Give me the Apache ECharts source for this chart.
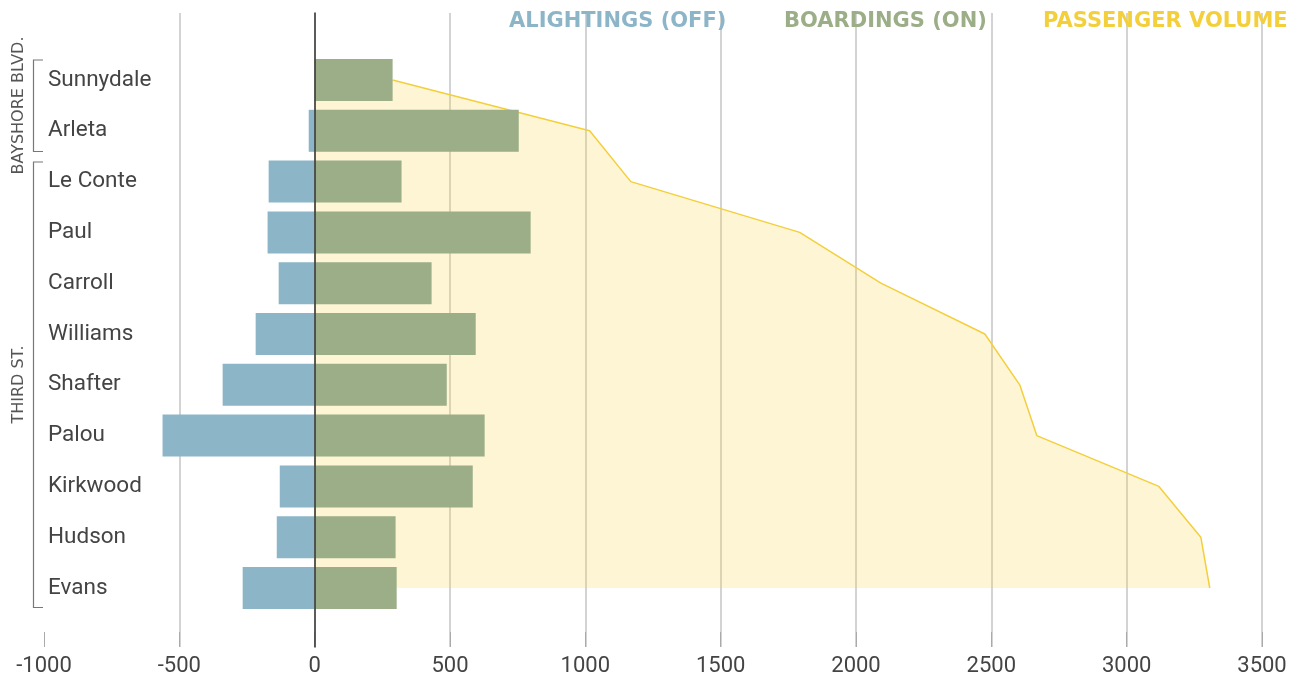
<!DOCTYPE html>
<html>
<head>
<meta charset="utf-8">
<script src="https://cdn.jsdelivr.net/npm/echarts@6/dist/echarts.min.js"></script>
<style>
html,body{margin:0;padding:0;background:#fff;}
#chart{width:1305px;height:678px;}
</style>
</head>
<body>
<div id="chart"></div>
<script>
const categories = ['Sunnydale','Arleta','Le Conte','Paul','Carroll','Williams','Shafter','Palou','Kirkwood','Hudson','Evans'];
const alightings = [0,-22,-170,-174,-133,-218,-340,-562,-129,-140,-266];
const boardings = [288,754,321,798,432,595,488,628,584,299,303];
const passengerVolume = [288,1016,1168,1792,2092,2476,2605,2668,3119,3274,3307];
const xMin = -1000, xMax = 3500, xStep = 500;
const seriesNames = ['ALIGHTINGS (OFF)','BOARDINGS (ON)','PASSENGER VOLUME'];
const groupLabels = ['BAYSHORE BLVD.','THIRD ST.'];

const BLUE = '#8cb6c8', GREEN = '#9bae87', YELLOW = '#f4cf3c';
const chart = echarts.init(document.getElementById('chart'));

function legendAt(name, left, color){
  return {
    data:[name], left:left, top:11, icon:'none', itemWidth:0, itemHeight:0,
    selectedMode:false, padding:0,
    textStyle:{color:color, fontFamily:'DejaVu Sans', fontWeight:'bold', fontSize:21, padding:0}
  };
}
const bracketStyle = {stroke:'#777', lineWidth:1.2, fill:null};

chart.setOption({
  animation:false,
  legend:[
    legendAt(seriesNames[0], 504, BLUE),
    legendAt(seriesNames[1], 779, GREEN),
    legendAt(seriesNames[2], 1038, YELLOW)
  ],
  grid:[
    {left:44, right:43, top:13, bottom:31},
    {left:44, right:43, top:54.6, bottom:64.6}
  ],
  xAxis:[
    {gridIndex:0, type:'value', min:xMin, max:xMax, interval:xStep,
     axisLine:{show:false},
     axisTick:{show:true, inside:true, length:15, lineStyle:{color:'#aaa', width:1}},
     axisLabel:{color:'#444', fontSize:22, fontFamily:'Roboto', margin:8,
                formatter:function(v){ return String(v); }},
     splitLine:{show:true, showMinLine:false, lineStyle:{color:'#c4c4c4', width:1.5}}},
    {gridIndex:1, type:'value', min:xMin, max:xMax, interval:xStep, show:false,
     splitLine:{show:false}}
  ],
  yAxis:[
    {gridIndex:0, type:'value', min:0, max:1, z:10,
     axisLine:{show:true, onZero:true, lineStyle:{color:'#333', width:1.5}},
     axisTick:{show:false}, axisLabel:{show:false}, splitLine:{show:false}},
    {gridIndex:1, type:'category', data:categories, inverse:true,
     axisLine:{show:false}, axisTick:{show:false},
     axisLabel:{margin:-4, align:'left', color:'#444', fontSize:22.5, fontFamily:'Roboto', padding:[10,0,0,0]},
     splitLine:{show:false}}
  ],
  series:[
    {name:seriesNames[2], type:'line', xAxisIndex:1, yAxisIndex:1, data:passengerVolume,
     symbol:'none', z:1, lineStyle:{color:YELLOW, width:1.5},
     itemStyle:{color:YELLOW},
     areaStyle:{color:'rgba(245,210,60,0.32)'}},
    {name:seriesNames[0], type:'bar', xAxisIndex:1, yAxisIndex:1, data:alightings,
     barWidth:42, barGap:'-100%', z:3, itemStyle:{color:BLUE}},
    {name:seriesNames[1], type:'bar', xAxisIndex:1, yAxisIndex:1, data:boardings,
     barWidth:42, barGap:'-100%', z:3, itemStyle:{color:GREEN}}
  ],
  graphic:[
    {type:'polyline', shape:{points:[[43,60],[33.5,60],[33.5,151.5],[43,151.5]]}, style:bracketStyle, silent:true},
    {type:'polyline', shape:{points:[[43,162],[33.5,162],[33.5,607.5],[43,607.5]]}, style:bracketStyle, silent:true},
    {type:'text', x:19, y:105.5, rotation:Math.PI/2,
     style:{text:groupLabels[0], fill:'#555', font:'16px "DejaVu Sans"', align:'center', verticalAlign:'middle'}},
    {type:'text', x:19, y:384.5, rotation:Math.PI/2,
     style:{text:groupLabels[1], fill:'#555', font:'16px "DejaVu Sans"', align:'center', verticalAlign:'middle'}}
  ]
});
</script>
</body>
</html>
